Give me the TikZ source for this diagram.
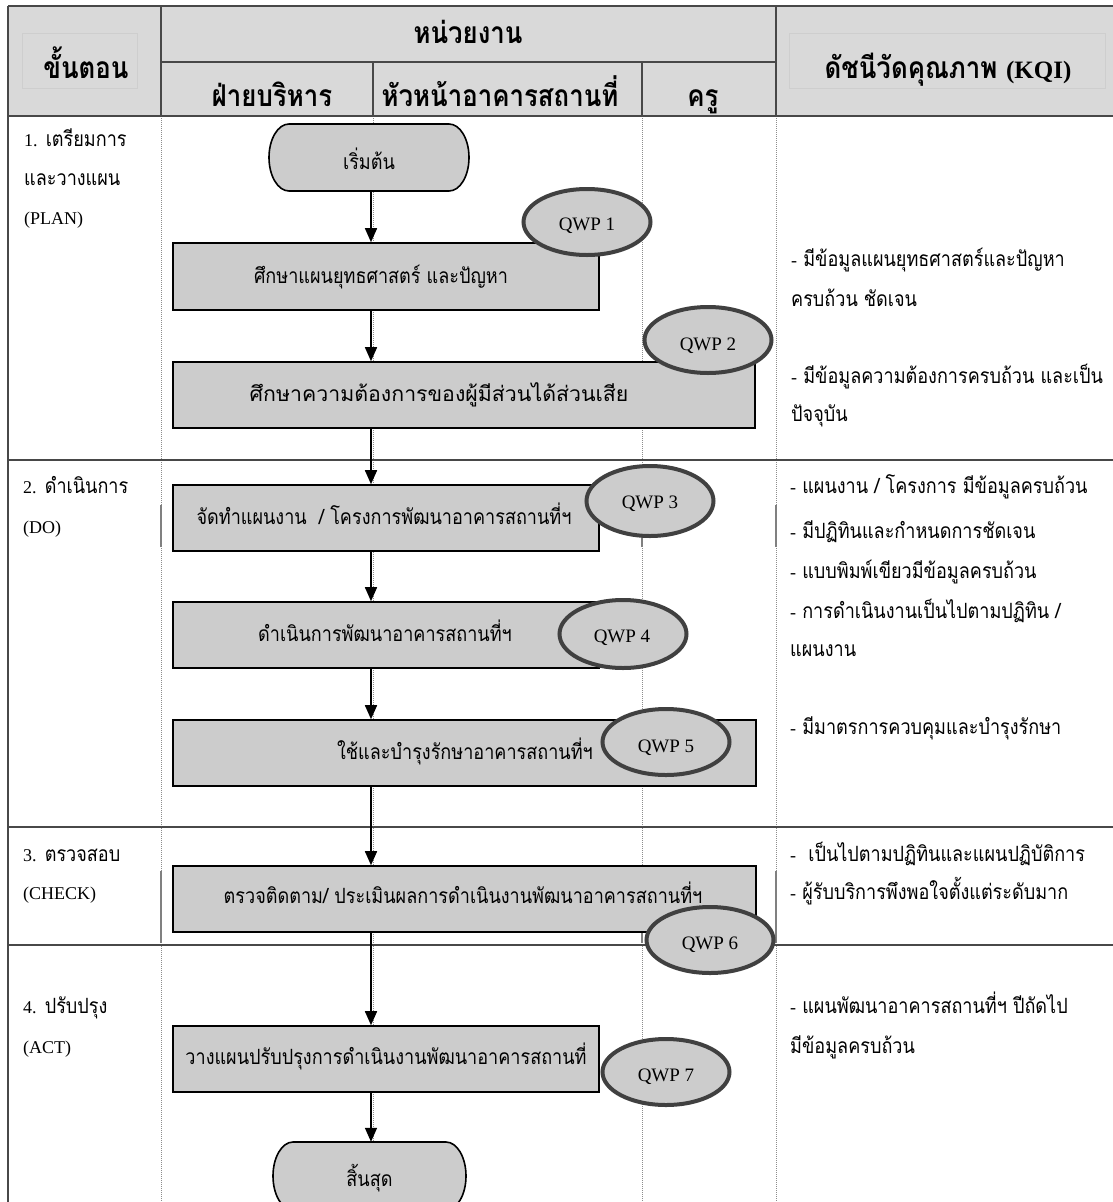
\documentclass[tikz,border=0pt]{standalone}
\usepackage{fontspec}
\usepackage{graphicx}
\setmainfont[Script=Thai,FakeStretch=0.86]{Loma}
\newfontfamily\lat{Liberation Serif}
\newcommand\latsm{\lat\fontsize{18}{20}\selectfont}
\newcommand\lathd{\lat\fontsize{25}{28}\selectfont}
\usetikzlibrary{arrows.meta,shapes.geometric}
\definecolor{hdr}{RGB}{217,217,217}
\definecolor{boxfill}{RGB}{204,204,204}
\definecolor{rim}{RGB}{64,64,64}
\definecolor{rulec}{RGB}{72,72,72}
\definecolor{dotc}{RGB}{140,140,140}
\definecolor{faintc}{RGB}{206,206,206}
\begin{document}
\begin{tikzpicture}[x=1pt,y=-1pt,
  txt/.style={inner sep=0pt, font=\fontsize{21}{23}\selectfont},
  ltxt/.style={txt, anchor=base west},
  ctxt/.style={txt, anchor=base},
  hd/.style={inner sep=0pt, anchor=base, font=\fontsize{30}{32}\selectfont\bfseries},
  proc/.style={draw=black, line width=1.6pt, fill=boxfill, inner sep=0pt},
  termline/.style={draw=black, line width=1.6pt, fill=boxfill},
  termbox/.style={inner sep=0pt, minimum width=193pt, minimum height=67pt},
  qwp/.style={ellipse, draw=rim, line width=4pt, fill=boxfill, minimum width=127pt, minimum height=66pt, inner sep=0pt},
  qlab/.style={inner sep=0pt, font=\lat\fontsize{19}{21}\selectfont},
  flow/.style={line width=1.6pt, -{Triangle[length=14pt,width=12pt]}},
  tline/.style={draw=rulec, line width=1.5pt},
  dotline/.style={draw=dotc, line width=1pt, dash pattern=on 1pt off 1pt},
  segline/.style={draw=gray, line width=2pt},
  faint/.style={draw=faintc, line width=0.8pt}
]
\useasboundingbox (0,0) rectangle (1113,1202);
\clip (0,0) rectangle (1113,1202);

% header background
\fill[hdr] (8,6) rectangle (1113,116);
\draw[faint] (22,33) rectangle (137,88);
\draw[faint] (789,33) rectangle (1105,88);

% dotted column lines in body
\foreach \x in {161,373,642,776} \draw[dotline] (\x,116) -- (\x,1202);
% solid grey pieces on the column lines
\draw[segline] (161,505) -- (161,547);
\draw[segline] (776,505) -- (776,547);
\draw[segline] (642,537) -- (642,547);
\draw[segline] (161,871) -- (161,943);
\draw[segline] (776,871) -- (776,943);
\draw[segline] (642,933) -- (642,943);

% table rules
\draw[tline] (8,6) -- (1113,6);
\draw[tline] (8,6) -- (8,1202);
\draw[tline] (161,6) -- (161,116);
\draw[tline] (776,6) -- (776,116);
\draw[tline] (161,62) -- (776,62);
\draw[tline] (373,62) -- (373,116);
\draw[tline] (642,62) -- (642,116);
\draw[tline] (8,116) -- (1113,116);
\draw[tline] (8,460) -- (1113,460);
\draw[tline] (8,827) -- (1113,827);
\draw[tline] (8,945) -- (1113,945);

% header texts
\node[hd] (h1) at (86,78) {ขั้นตอน};
\node[hd] (h2) at (468,43) {หน่วยงาน};
\node[hd] (h3) at (272,106) {ฝ่ายบริหาร};
\node[hd] (h4) at (500,106) {หัวหน้าอาคารสถานที่};
\node[hd] (h5) at (703,106) {ครู};
\node[hd] (h6) at (948,78) {ดัชนีวัดคุณภาพ {\lathd\bfseries (KQI)}};

% step column
\node[ltxt] (s1a) at (24,146) {{\latsm 1.} เตรียมการ};
\node[ltxt] (s1b) at (24,185) {และวางแผน};
\node[ltxt] (s1c) at (24,224) {\latsm (PLAN)};
\node[ltxt] (s2a) at (23,493) {{\latsm 2.} ดำเนินการ};
\node[ltxt] (s2b) at (23,533) {\latsm (DO)};
\node[ltxt] (s3a) at (23,861) {{\latsm 3.} ตรวจสอบ};
\node[ltxt] (s3b) at (23,899) {\latsm (CHECK)};
\node[ltxt] (s4a) at (23,1013) {{\latsm 4.} ปรับปรุง};
\node[ltxt] (s4b) at (23,1053) {\latsm (ACT)};

% flow shapes
\coordinate (ax) at (371,0);
\path[termline] (289,124) -- (449,124) arc[start angle=90,end angle=-90,x radius=20pt,y radius=33.5pt] -- (289,191) arc[start angle=270,end angle=90,x radius=20pt,y radius=33.5pt] -- cycle;
\node[termbox] (start) at (369,157.5) {};
\node[ctxt] (startt) at (369,169) {เริ่มต้น};

\node[proc, minimum width=426pt, minimum height=67pt] (b1) at (386,276.5) {};
\node[ctxt] (b1t) at (381,283) {ศึกษาแผนยุทธศาสตร์ และปัญหา};
\node[proc, minimum width=582pt, minimum height=66pt] (b2) at (464,395) {};
\node[ctxt] (b2t) at (439,401) {\scalebox{1.18}[1]{ศึกษาความต้องการของผู้มีส่วนได้ส่วนเสีย}};
\node[proc, minimum width=426pt, minimum height=66pt] (b3) at (386,518) {};
\node[ctxt] (b3t) at (384,524) {จัดทำแผนงาน~~/ โครงการพัฒนาอาคารสถานที่ฯ};
\node[proc, minimum width=426pt, minimum height=66pt] (b4) at (386,635) {};
\node[ctxt] (b4t) at (385,641) {ดำเนินการพัฒนาอาคารสถานที่ฯ};
\node[proc, minimum width=583pt, minimum height=66pt] (b5) at (464.5,753) {};
\node[ctxt] (b5t) at (465,759) {ใช้และบำรุงรักษาอาคารสถานที่ฯ};
\node[proc, minimum width=583pt, minimum height=66pt] (b6) at (464.5,899) {};
\node[ctxt] (b6t) at (463,903) {ตรวจติดตาม/ ประเมินผลการดำเนินงานพัฒนาอาคารสถานที่ฯ};
\node[proc, minimum width=426pt, minimum height=66pt] (b7) at (386,1059) {};
\node[ctxt] (b7t) at (386,1064) {วางแผนปรับปรุงการดำเนินงานพัฒนาอาคารสถานที่};

\path[termline] (293,1142) -- (446,1142) arc[start angle=90,end angle=-90,x radius=20pt,y radius=34pt] -- (293,1210) arc[start angle=270,end angle=90,x radius=20pt,y radius=34pt] -- cycle;
\node[termbox, minimum height=68pt] (stop) at (369.5,1176) {};
\node[ctxt] (stopt) at (369.5,1186) {สิ้นสุด};

% connectors
\draw[flow] (start.south -| ax) -- (b1.north -| ax);
\draw[flow] (b1.south -| ax) -- (b2.north -| ax);
\draw[flow] (b2.south -| ax) -- (b3.north -| ax);
\draw[flow] (b3.south -| ax) -- (b4.north -| ax);
\draw[flow] (b4.south -| ax) -- (b5.north -| ax);
\draw[flow] (b5.south -| ax) -- (b6.north -| ax);
\draw[flow] (b6.south -| ax) -- (b7.north -| ax);
\draw[flow] (b7.south -| ax) -- (stop.north -| ax);

% QWP ellipses
\node[qwp] (q1) at (587,222) {};
\node[qlab] (q1t) at (587,226) {QWP 1};
\node[qwp] (q2) at (708,340) {};
\node[qlab] (q2t) at (708,346) {QWP 2};
\node[qwp, minimum height=70pt] (q3) at (650,501) {};
\node[qlab] (q3t) at (650,504) {QWP 3};
\node[qwp, minimum height=68pt] (q4) at (623,634) {};
\node[qlab] (q4t) at (622,638) {QWP 4};
\node[qwp] (q5) at (666,742) {};
\node[qlab] (q5t) at (666,748) {QWP 5};
\node[qwp] (q6) at (710,940) {};
\node[qlab] (q6t) at (710,945) {QWP 6};
\node[qwp] (q7) at (666,1072) {};
\node[qlab] (q7t) at (666,1077) {QWP 7};

% KQI column
\node[ltxt] (k1) at (791,266) {{\latsm -} มีข้อมูลแผนยุทธศาสตร์และปัญหา};
\node[ltxt] (k2) at (791,306) {ครบถ้วน ชัดเจน};
\node[ltxt] (k3) at (791,383) {{\latsm -} มีข้อมูลความต้องการครบถ้วน และเป็น};
\node[ltxt] (k4) at (791,421) {ปัจจุบัน};
\node[ltxt] (k5) at (790,493) {{\latsm -} แผนงาน / โครงการ มีข้อมูลครบถ้วน};
\node[ltxt] (k6) at (790,538) {{\latsm -} มีปฏิทินและกำหนดการชัดเจน};
\node[ltxt] (k7) at (790,578) {{\latsm -} แบบพิมพ์เขียวมีข้อมูลครบถ้วน};
\node[ltxt] (k8) at (790,618) {{\latsm -} การดำเนินงานเป็นไปตามปฏิทิน /};
\node[ltxt] (k9) at (790,656) {แผนงาน};
\node[ltxt] (k10) at (790,734) {{\latsm -} มีมาตรการควบคุมและบำรุงรักษา};
\node[ltxt] (k11) at (790,861) {{\latsm -}~~เป็นไปตามปฏิทินและแผนปฏิบัติการ};
\node[ltxt] (k12) at (790,899) {{\latsm -} ผู้รับบริการพึงพอใจตั้งแต่ระดับมาก};
\node[ltxt] (k13) at (790,1013) {{\latsm -} แผนพัฒนาอาคารสถานที่ฯ ปีถัดไป};
\node[ltxt] (k14) at (790,1053) {มีข้อมูลครบถ้วน};
\end{tikzpicture}
\end{document}
